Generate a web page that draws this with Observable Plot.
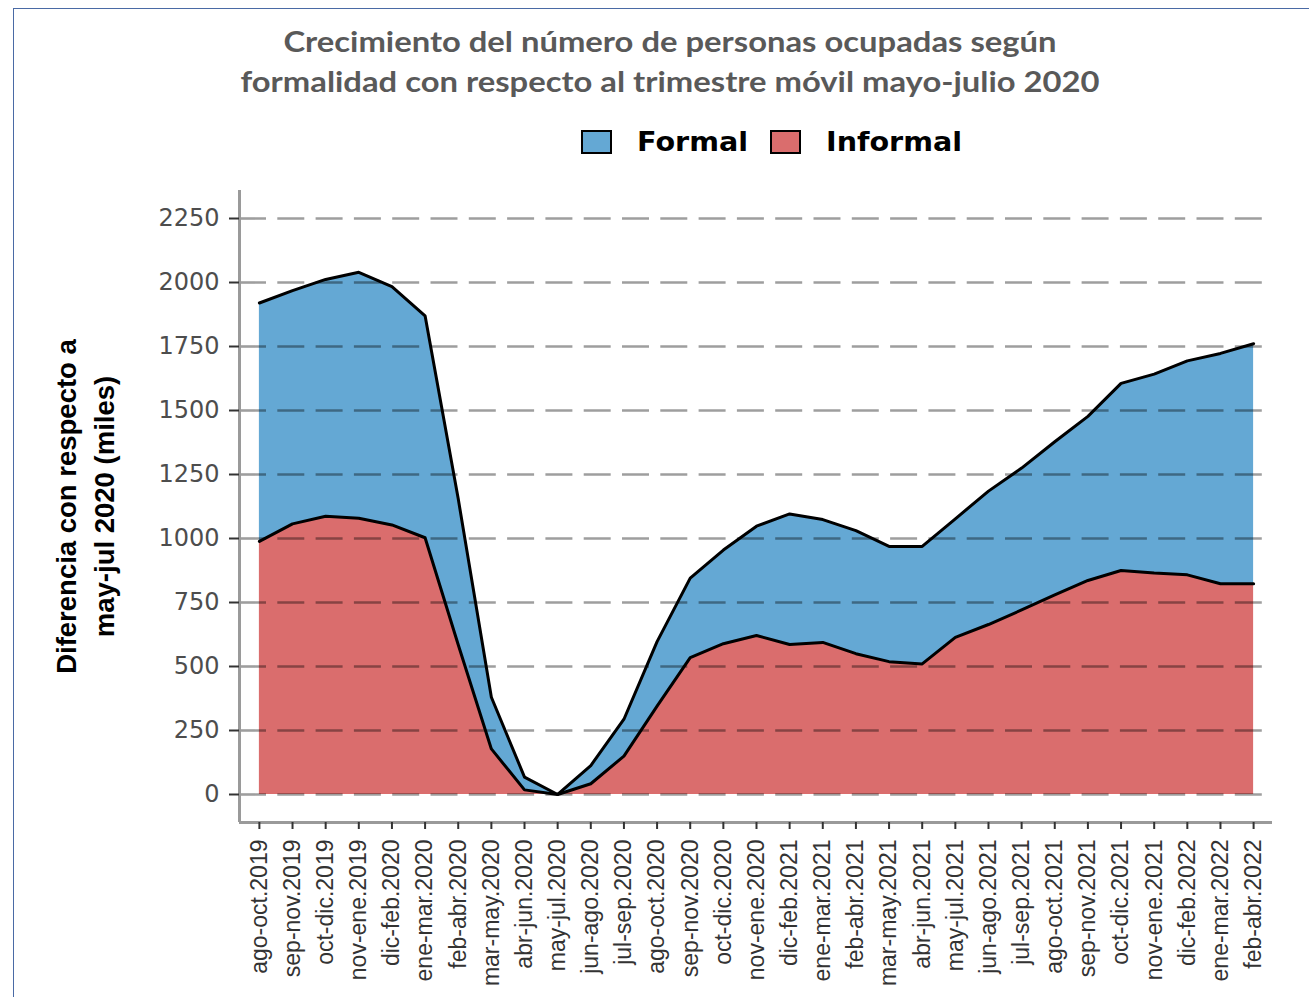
<!DOCTYPE html>
<html>
<head>
<meta charset="utf-8">
<script src="https://cdn.jsdelivr.net/npm/d3@7"></script>
<script src="https://cdn.jsdelivr.net/npm/@observablehq/plot@0.6"></script>
<style>
  body { margin: 0; background: #fff; }
  #page { position: relative; width: 1309px; height: 997px; overflow: hidden; background: #fff; }
  #border { position: absolute; left: 13px; top: 8px; width: 2000px; height: 2000px;
            border-left: 1.5px solid #4a6aa5; border-top: 1.5px solid #4a6aa5; pointer-events: none; }
  #header { position: relative; height: 170px; }
  #title { position: absolute; left: 31px; right: 0; top: 21px; text-align: center;
           font-family: Lato, "Open Sans", sans-serif; font-weight: bold; font-size: 29px;
           line-height: 40px; color: #595959; transform: scaleX(1.13); transform-origin: 639px 0; }
  .lgbox { position: absolute; top: 130px; width: 27px; height: 20px; border: 2px solid #000; }
  .lgtxt { position: absolute; top: 126px; font-family: "DejaVu Sans", sans-serif; font-weight: bold;
           font-size: 26px; line-height: 32px; color: #000; transform: scaleX(1.1); transform-origin: 0 0; }
  #chart svg { display: block; }
</style>
</head>
<body>
<div id="page">
  <div id="header">
    <div id="title">Crecimiento del número de personas ocupadas según<br>formalidad con respecto al trimestre móvil mayo-julio 2020</div>
    <div class="lgbox" id="lgFormal" style="left:581px;"></div>
    <div class="lgtxt" style="left:637px;">Formal</div>
    <div class="lgbox" id="lgInformal" style="left:770px;"></div>
    <div class="lgtxt" style="left:826px;">Informal</div>
  </div>
  <div id="chart"></div>
  <div id="border"></div>
</div>
<script>
// Period labels (rolling quarters)
const periods = [
  "ago-oct.2019","sep-nov.2019","oct-dic.2019","nov-ene.2019","dic-feb.2020","ene-mar.2020",
  "feb-abr.2020","mar-may.2020","abr-jun.2020","may-jul.2020","jun-ago.2020","jul-sep.2020",
  "ago-oct.2020","sep-nov.2020","oct-dic.2020","nov-ene.2020","dic-feb.2021","ene-mar.2021",
  "feb-abr.2021","mar-may.2021","abr-jun.2021","may-jul.2021","jun-ago.2021","jul-sep.2021",
  "ago-oct.2021","sep-nov.2021","oct-dic.2021","nov-ene.2021","dic-feb.2022","ene-mar.2022",
  "feb-abr.2022"
];
// Informal employment difference (thousands)
const informal = [
  989, 1057, 1087, 1079, 1053, 1003, 585, 178, 18, 0, 42, 150,
  345, 535, 589, 621, 586, 594, 550, 519, 510, 614, 664, 721,
  780, 836, 875, 865, 858, 823, 823
];
// Formal employment difference (thousands), stacked on top of informal
const formal = [
  931, 911, 925, 961, 931, 867, 570, 202, 50, 0, 71, 144,
  252, 310, 366, 427, 510, 480, 481, 450, 459, 463, 521, 554,
  598, 641, 731, 777, 836, 900, 938
];
const yTicks = [0, 250, 500, 750, 1000, 1250, 1500, 1750, 2000, 2250];
const seriesNames = ["Formal", "Informal"];
const seriesColors = ["#64a8d4", "#da6d6d"];

document.getElementById("lgFormal").style.background = seriesColors[0];
document.getElementById("lgInformal").style.background = seriesColors[1];

const rows = periods.map((p, i) => ({
  i, period: p, informal: informal[i], total: informal[i] + formal[i]
}));

const xDomain = [-0.6, 30.57];
const yDomain = [-109.4, 2359.4];

const chart = Plot.plot({
  width: 1309,
  height: 827,
  marginLeft: 239,
  marginRight: 37,
  marginTop: 20,
  marginBottom: 175,
  x: { type: "linear", domain: xDomain },
  y: { type: "linear", domain: yDomain },
  marks: [
    Plot.areaY(rows, { x: "i", y1: "informal", y2: "total", fill: seriesColors[0] }),
    Plot.areaY(rows, { x: "i", y1: 0, y2: "informal", fill: seriesColors[1] }),
    Plot.ruleY(yTicks, { stroke: "#000", strokeOpacity: 0.38, strokeWidth: 2.6, strokeDasharray: "27,11.3" }),
    Plot.line(rows, { x: "i", y: "total", stroke: "#000", strokeWidth: 3 }),
    Plot.line(rows, { x: "i", y: "informal", stroke: "#000", strokeWidth: 3 }),
    Plot.ruleX([xDomain[0]], { stroke: "#9a9a9a", strokeWidth: 3 }),
    Plot.ruleY([yDomain[0]], { stroke: "#9a9a9a", strokeWidth: 3 }),
    Plot.axisY(yTicks, {
      tickSize: 10, tickPadding: 10, stroke: "#333", strokeWidth: 2, fill: "#4d4d4d",
      tickFormat: (d) => String(d),
      fontSize: 24, fontFamily: "DejaVu Sans", label: null
    }),
    Plot.axisX(d3.range(periods.length), {
      tickFormat: (d) => periods[d], tickRotate: -90, tickSize: 7, tickPadding: 10,
      stroke: "#333", strokeWidth: 2, fill: "#333",
      fontSize: 23, fontFamily: "Liberation Sans", label: null
    }),
    Plot.text(["Diferencia con respecto a\nmay-jul 2020 (miles)"], {
      frameAnchor: "left", textAnchor: "middle", rotate: -90, dx: -157,
      fontSize: 27.5, fontWeight: "bold", fontFamily: "Liberation Sans", lineHeight: 1.4, fill: "#000"
    })
  ]
});
document.getElementById("chart").appendChild(chart);
</script>
</body>
</html>
